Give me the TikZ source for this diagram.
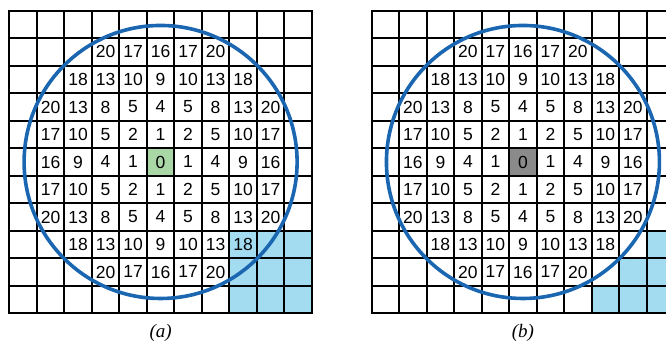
\documentclass[tikz,border=0pt]{standalone}
\usepackage{fontspec}
\setmainfont{Liberation Sans}
\newfontfamily\capfont{Liberation Serif}
\definecolor{ringblue}{HTML}{1A66B0}
\definecolor{cellblue}{HTML}{A3DCF0}
\definecolor{cellgreen}{HTML}{A9D8A6}
\definecolor{cellgray}{HTML}{8A8A8A}
\tikzset{
  gridline/.style={line width=2pt,line cap=rect},
  ring/.style={ringblue,line width=3.6pt},
  dist/.style={inner sep=0pt,font=\fontsize{17.5}{17.5}\selectfont},
  caption/.style={inner sep=0pt,font=\capfont\fontsize{19}{19}\selectfont\itshape}
}
\begin{document}
\begin{tikzpicture}[x=27.5pt,y=27.5pt]
  \useasboundingbox (0,0) rectangle (24.218,12.4);
  % (a)
  \begin{scope}[shift={(0.34,1.01)}]
    \fill[cellblue] (8,0) rectangle (11,3);
    \fill[cellgreen] (5,5) rectangle (6,6);
    \foreach \dx in {-4,...,4}
      \foreach \dy in {-4,...,4} {
        \pgfmathtruncatemacro\dd{\dx*\dx+\dy*\dy}
        \ifnum\dd<21
          \node[dist] (a\dx\dy) at (5.5+\dx,5.5+\dy) {\dd};
        \fi
      }
    \foreach \i in {0,...,11} {
      \draw[gridline] (\i,0) -- (\i,11);
      \draw[gridline] (0,\i) -- (11,\i);
    }
    \coordinate (acenter) at (5.5,5.5);
    \draw[ring] (acenter) circle (136.5pt);
    \node[caption] (acap) at (5.5,-0.72) {(a)};
  \end{scope}
  % (b)
  \begin{scope}[shift={(13.516,1.01)}]
    \fill[cellblue] (10,2) rectangle (11,3);
    \fill[cellblue] (9,1) rectangle (11,2);
    \fill[cellblue] (8,0) rectangle (11,1);
    \fill[cellgray] (5,5) rectangle (6,6);
    \foreach \dx in {-4,...,4}
      \foreach \dy in {-4,...,4} {
        \pgfmathtruncatemacro\dd{\dx*\dx+\dy*\dy}
        \ifnum\dd<21
          \node[dist] (b\dx\dy) at (5.5+\dx,5.5+\dy) {\dd};
        \fi
      }
    \foreach \i in {0,...,11} {
      \draw[gridline] (\i,0) -- (\i,11);
      \draw[gridline] (0,\i) -- (11,\i);
    }
    \coordinate (bcenter) at (5.5,5.5);
    \draw[ring] (bcenter) circle (136.5pt);
    \node[caption] (bcap) at (5.5,-0.72) {(b)};
  \end{scope}
\end{tikzpicture}
\end{document}
